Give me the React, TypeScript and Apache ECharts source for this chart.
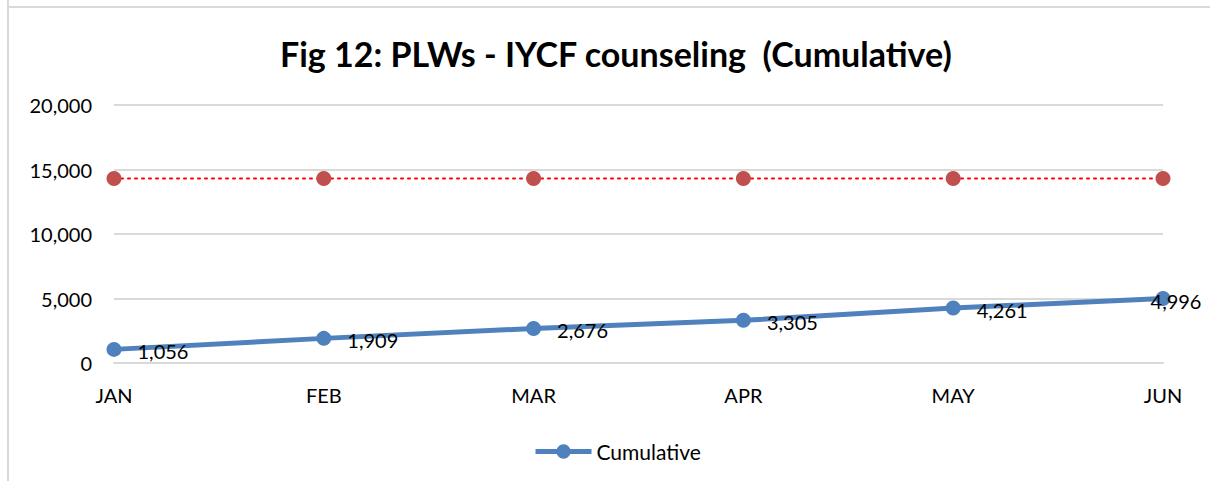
import React, { useEffect, useRef } from "react";
import * as echarts from "echarts";

const categories = ["JAN", "FEB", "MAR", "APR", "MAY", "JUN"];
const cumulative = [1056, 1909, 2676, 3305, 4261, 4996];
const target = [14300, 14300, 14300, 14300, 14300, 14300];
const yTicks = { min: 0, max: 20000, interval: 5000 };

const FONT = "Lato, 'Open Sans', sans-serif";

export default function App() {
  const ref = useRef<HTMLDivElement>(null);
  useEffect(() => {
    document.body.style.margin = "0";
    const chart = echarts.init(ref.current!, undefined, { renderer: "svg" });
    const last = cumulative.length - 1;
    chart.setOption({
      animation: false,
      backgroundColor: "#ffffff",
      title: {
        text: "Fig 12: PLWs - IYCF counseling  (Cumulative)",
        left: 275,
        top: 31,
        textStyle: { fontFamily: FONT, fontSize: 34, fontWeight: "bold", color: "#000" },
      },
      graphic: [
        { type: "line", shape: { x1: 8, y1: 0, x2: 8, y2: 481 }, style: { stroke: "#d9d9d9", lineWidth: 2 }, silent: true },
        { type: "line", shape: { x1: 8, y1: 7, x2: 1210, y2: 7 }, style: { stroke: "#d9d9d9", lineWidth: 2 }, silent: true },
      ],
      grid: { left: 114, right: 47, top: 105, bottom: 118, containLabel: false, show: false },
      legend: {
        data: ["Cumulative"],
        left: 528,
        top: 436,
        itemWidth: 56,
        itemHeight: 18,
        itemGap: 4,
        lineStyle: { width: 5 },
        textStyle: { fontFamily: FONT, fontSize: 21, color: "#000" },
      },
      xAxis: {
        type: "category",
        data: categories,
        boundaryGap: false,
        axisLine: { show: true, lineStyle: { color: "#d9d9d9", width: 2 } },
        axisTick: { show: false },
        splitLine: { show: false },
        splitArea: { show: false },
        axisLabel: { margin: 22, fontFamily: FONT, fontSize: 20, color: "#000" },
      },
      yAxis: {
        type: "value",
        min: yTicks.min,
        max: yTicks.max,
        interval: yTicks.interval,
        axisLine: { show: false },
        axisTick: { show: false },
        splitArea: { show: false },
        splitLine: { lineStyle: { color: "#d9d9d9", width: 2 } },
        axisLabel: {
          margin: 22,
          fontFamily: FONT,
          fontSize: 20,
          color: "#000",
          formatter: (v: number) => v.toLocaleString("en-US"),
        },
      },
      series: [
        {
          name: "Target",
          type: "line",
          data: target,
          symbol: "circle",
          symbolSize: 15,
          itemStyle: { color: "#c0504d" },
          lineStyle: { color: "#ff0000", width: 2, type: [2, 5], cap: "round" },
          z: 2,
        },
        {
          name: "Cumulative",
          type: "line",
          data: cumulative.map((v, i) =>
            i === last
              ? { value: v, label: { position: "inside", offset: [13, 2] } }
              : v
          ),
          symbol: "circle",
          symbolSize: 15,
          itemStyle: { color: "#4f81bd" },
          lineStyle: { color: "#4f81bd", width: 5 },
          label: {
            show: true,
            position: "right",
            distance: 16,
            offset: [0, 2],
            fontFamily: FONT,
            fontSize: 20,
            color: "#000",
            formatter: (p: any) => Number(p.value).toLocaleString("en-US"),
          },
          z: 3,
        },
      ],
    });
    return () => chart.dispose();
  }, []);
  return <div ref={ref} style={{ width: 1210, height: 481 }} />;
}
